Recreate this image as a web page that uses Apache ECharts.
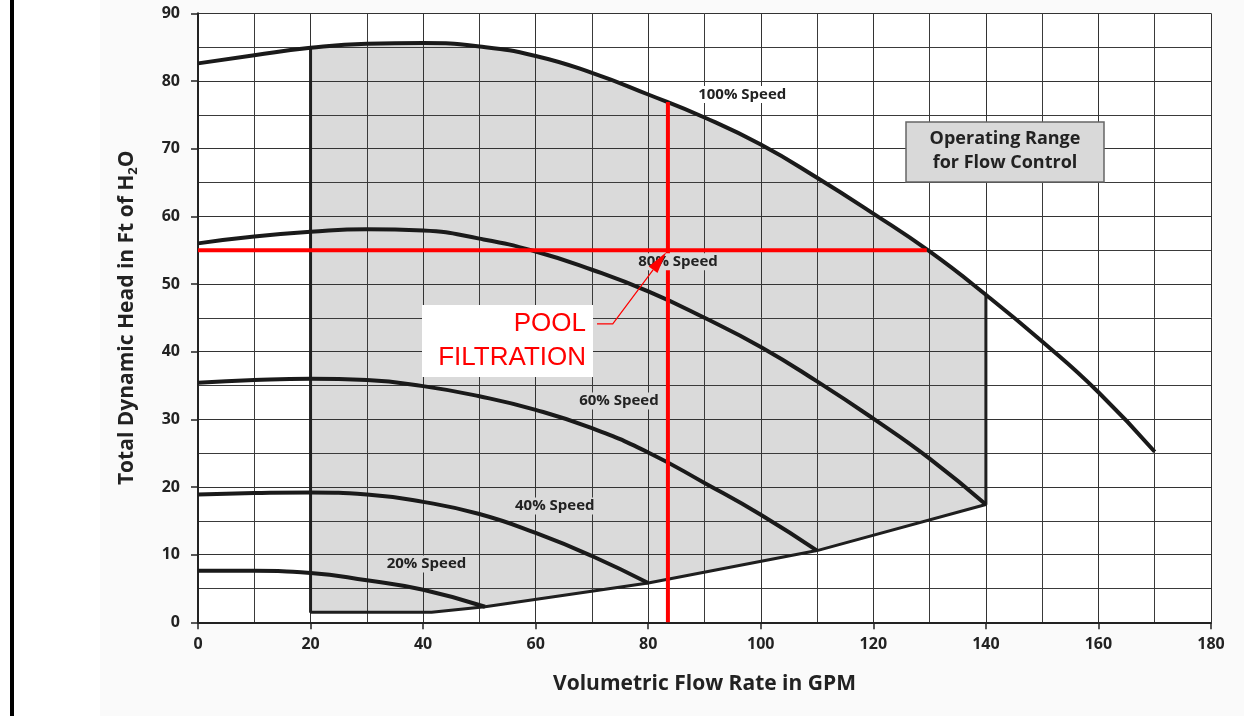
<!DOCTYPE html>
<html>
<head>
<meta charset="utf-8">
<script src="https://cdn.jsdelivr.net/npm/echarts@6/dist/echarts.min.js"></script>
<style>
html,body{margin:0;padding:0;background:#fff;}
#c{width:1244px;height:716px;}
</style>
</head>
<body>
<div id="c"></div>
<script>
// ---- data ----
const flow100 = [0,10,20,30,40,50,60,70,80,90,100,110,120,130,140,150,160,170];
const head100 = [82.6,83.8,84.9,85.5,85.6,85.1,83.7,81.2,78.0,74.6,70.6,65.7,60.4,54.8,48.4,41.5,34.0,25.2];

const flow80 = [0,10,20,30,40,50,60,70,80,90,100,110,120,130,140];
const head80 = [56.0,57.0,57.7,58.1,57.9,56.7,54.8,52.1,48.9,45.0,40.7,35.6,30.1,24.2,17.4];

const flow60 = [0,10,20,30,40,50,60,70,80,90,100,110];
const head60 = [35.4,35.8,36.0,35.8,34.9,33.4,31.4,28.7,25.1,20.6,15.9,10.6];

const flow40 = [0,10,20,30,40,50,60,70,80];
const head40 = [18.9,19.1,19.2,18.9,17.8,16.0,13.2,9.8,5.8];

const flow20 = [0,10,20,30,40,51];
const head20 = [7.6,7.6,7.3,6.2,4.8,2.3];

const minFlow = 20;        // left edge of operating range (GPM)
const maxFlow = 140;       // right edge of operating range (GPM)
const floorFlow = [20, 41.5];
const floorHead = [1.5, 1.5];

const dutyFlow = 83.5;     // pool filtration duty point
const dutyHead = 55;
const dutyVTop = 76.9;     // where vertical meets 100% curve
const dutyHEnd = 129.5;    // where horizontal meets 100% curve

const xTicks = [0,20,40,60,80,100,120,140,160,180];
const yTicks = [0,10,20,30,40,50,60,70,80,90];

// ---- helpers ----
const zip = (xs, ys) => xs.map((x, i) => [x, ys[i]]);
const c100 = zip(flow100, head100), c80 = zip(flow80, head80), c60 = zip(flow60, head60),
      c40 = zip(flow40, head40), c20 = zip(flow20, head20);
const last = a => a[a.length - 1];

const topEdge = c100.filter(p => p[0] >= minFlow && p[0] <= maxFlow);
const floor = zip(floorFlow, floorHead);
const lowerEdge = [last(c80), last(c60), last(c40), last(c20), floor[1], floor[0]];
const rangePoly = topEdge.concat(lowerEdge);
const boundary = [topEdge[0], floor[0], floor[1], last(c20), last(c40), last(c60), last(c80), last(topEdge)];

const curveStyle = {color:'#1a1a1a', width:4};
const fontF = "'Open Sans', 'DejaVu Sans', sans-serif";

function curve(name, data) {
  return {name, type:'line', data, smooth:0.5, symbol:'none', z:3,
    lineStyle:curveStyle, silent:true};
}

const chart = echarts.init(document.getElementById('c'), null, {renderer:'canvas'});

const option = {
  animation:false,
  backgroundColor:'#ffffff',
  grid:{left:198, right:33, top:13.3, bottom:93.7, show:true, backgroundColor:'#ffffff', borderWidth:0, z:0},
  xAxis:{
    type:'value', min:xTicks[0], max:last(xTicks), interval:xTicks[1]-xTicks[0], z:2,
    axisLine:{show:true, onZero:false, lineStyle:{color:'#222', width:2}},
    axisTick:{show:true, length:7, lineStyle:{color:'#222', width:1.5}},
    axisLabel:{margin:14, color:'#222', fontSize:16, fontFamily:fontF, fontWeight:'bold'},
    splitLine:{show:true, lineStyle:{color:'#333', width:1}},
    minorTick:{show:false, splitNumber:2},
    minorSplitLine:{show:true, lineStyle:{color:'#3a3a3a', width:1}},
    name:'Volumetric Flow Rate in GPM', nameLocation:'middle', nameGap:51,
    nameTextStyle:{fontSize:21, fontWeight:700, color:'#222', fontFamily:fontF}
  },
  yAxis:{
    type:'value', min:yTicks[0], max:last(yTicks), interval:yTicks[1]-yTicks[0], z:2,
    axisLine:{show:true, onZero:false, lineStyle:{color:'#222', width:2}},
    axisTick:{show:true, length:7, lineStyle:{color:'#222', width:1.5}},
    axisLabel:{margin:18, color:'#222', fontSize:16, fontFamily:fontF, fontWeight:'bold'},
    splitLine:{show:true, lineStyle:{color:'#333', width:1}},
    minorTick:{show:false, splitNumber:2},
    minorSplitLine:{show:true, lineStyle:{color:'#3a3a3a', width:1}},
    name:'{a|Total Dynamic Head in Ft of H}{s|2}{a|O}', nameLocation:'middle', nameGap:58, nameRotate:90,
    nameTextStyle:{
      rich:{
        a:{fontSize:21, fontWeight:700, color:'#222', fontFamily:fontF, lineHeight:26},
        s:{fontSize:13, fontWeight:700, color:'#222', fontFamily:fontF, lineHeight:12, verticalAlign:'bottom'}
      }
    }
  },
  series:[
    {
      name:'Operating Range', type:'custom', z:1, silent:true,
      data:[rangePoly[0]],
      renderItem:function(params, api){
        const pts = rangePoly.map(p => api.coord(p));
        return {type:'polygon', shape:{points:pts}, style:{fill:'#dadada'}};
      }
    },
    {name:'boundary', type:'line', data:boundary, symbol:'none', z:3, silent:true,
      lineStyle:{color:'#1f1f1f', width:3}},
    curve('100% Speed', c100),
    curve('80% Speed', c80),
    curve('60% Speed', c60),
    curve('40% Speed', c40),
    curve('20% Speed', c20),
    {name:'dutyV', type:'line', data:[[dutyFlow,0],[dutyFlow,dutyVTop]], symbol:'none', z:5, silent:true,
      lineStyle:{color:'#ff0000', width:4}},
    {name:'dutyH', type:'line', data:[[0,dutyHead],[dutyHEnd,dutyHead]], symbol:'none', z:5, silent:true,
      lineStyle:{color:'#ff0000', width:4}}
  ]
};
chart.setOption(option);

// ---- annotations ----
const px = p => chart.convertToPixel({gridIndex:0}, p);
const speedLabels = [
  {t:'100% Speed', at:[96.7,78.0], bg:'#ffffff'},
  {t:'80% Speed',  at:[85.3,53.3], bg:'#dadada'},
  {t:'60% Speed',  at:[74.8,32.7], bg:'#dadada'},
  {t:'40% Speed',  at:[63.4,17.2], bg:'#dadada'},
  {t:'20% Speed',  at:[40.6,8.6],  bg:'#dadada'}
];
const g = [
  {type:'rect', z:-5, shape:{x:100, y:0, width:1144, height:716}, style:{fill:'#fafafa'}, silent:true},
  {type:'rect', z:50, shape:{x:10, y:0, width:4, height:716}, style:{fill:'#000'}, silent:true}
];
speedLabels.forEach(s => {
  const p = px(s.at);
  g.push({type:'text', z:20, x:p[0], y:p[1], silent:true,
    style:{text:s.t, fontSize:15, fontWeight:'bold', fontFamily:fontF, fill:'#222',
      align:'center', verticalAlign:'middle', backgroundColor:s.bg, padding:[1,3]}});
});
// red leader arrow from the label to the duty point
const a0 = px([70.9,44.1]), a1 = px([73.7,44.1]), tip = px([83.2,54.7]);
const dx = tip[0]-a1[0], dy = tip[1]-a1[1], L = Math.hypot(dx,dy), ux = dx/L, uy = dy/L;
const headLen = 22, headW = 5.5;
const base = [tip[0]-ux*headLen, tip[1]-uy*headLen];
g.push({type:'polyline', z:30, silent:true, shape:{points:[a0,a1,base]},
  style:{stroke:'#ff0000', lineWidth:1.2, fill:null}});
g.push({type:'polygon', z:30, silent:true,
  shape:{points:[tip,[base[0]-uy*headW, base[1]+ux*headW],[base[0]+uy*headW, base[1]-ux*headW]]},
  style:{fill:'#ff0000'}});
g.push({type:'rect', z:40, shape:{x:906, y:122, width:198, height:60},
  style:{fill:'#d9d9d9', stroke:'#666', lineWidth:1.5}, silent:true});
g.push({type:'text', z:41, x:1005, y:151, silent:true,
  style:{text:'Operating Range\nfor Flow Control', fontSize:18, fontWeight:700, fontFamily:fontF,
    fill:'#222', align:'center', verticalAlign:'middle', lineHeight:24}});
g.push({type:'rect', z:40, shape:{x:422, y:305, width:171, height:72}, style:{fill:'#ffffff'}, silent:true});
g.push({type:'text', z:41, x:586, y:341, silent:true,
  style:{text:'POOL\nFILTRATION', fontSize:26, fontFamily:"'Liberation Sans', Arial, sans-serif",
    fill:'#ff0000', align:'right', verticalAlign:'middle', lineHeight:34}});
chart.setOption({graphic:{elements:g}});
</script>
</body>
</html>
